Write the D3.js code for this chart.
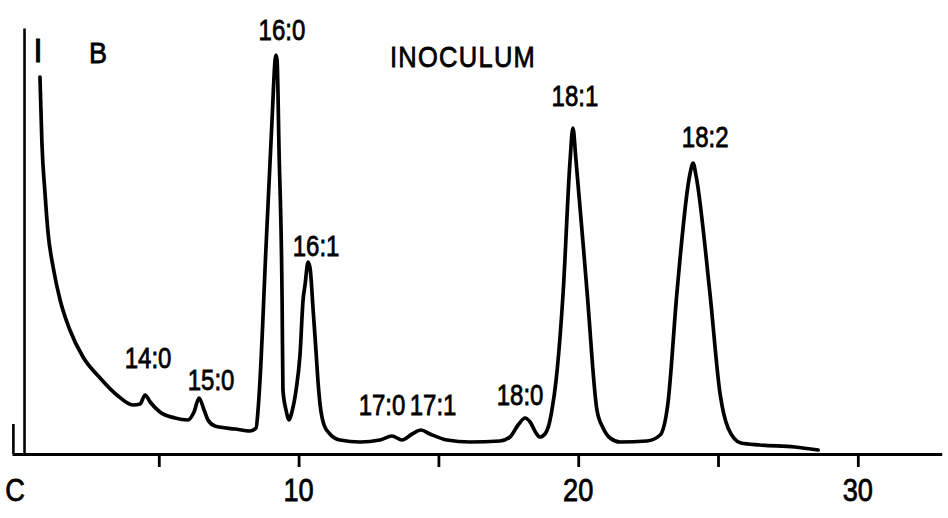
<!DOCTYPE html>
<html>
<head>
<meta charset="utf-8">
<script src="https://cdn.jsdelivr.net/npm/d3@7/dist/d3.min.js"></script>
<style>
  html, body { margin: 0; padding: 0; background: #fff; }
  svg { display: block; }
  text { font-family: "Liberation Sans", Arial, sans-serif; fill: #000; stroke: #000; stroke-width: 0.8px; }
</style>
</head>
<body>
<svg id="chart" width="948" height="518"></svg>
<script>
// Retention time (min) of the traced chromatogram points
const times = [0.75, 0.82, 0.93, 1.04, 1.22, 1.47, 1.82, 2.29, 2.90, 3.50, 4.08, 4.33, 4.51, 4.69, 5.04, 5.58,
  6.04, 6.26, 6.44, 6.62, 6.76, 7.01, 7.73, 8.26, 8.48, 8.55, 8.62, 8.83, 9.05, 9.16, 9.19, 9.23, 9.30, 9.41,
  9.44, 9.55, 9.66, 9.76, 9.91, 10.05, 10.16, 10.23, 10.34, 10.41, 10.52, 10.62, 10.69, 10.77, 10.91, 11.12,
  11.48, 12.20, 12.91, 13.34, 13.70, 14.06, 14.38, 14.70, 15.31, 16.13, 17.20, 17.56, 17.85, 18.10, 18.28,
  18.49, 18.63, 18.81, 18.96, 19.06, 19.21, 19.46, 19.71, 19.81, 19.92, 20.32, 20.67, 20.89, 21.14, 21.50,
  22.46, 22.93, 23.21, 23.53, 23.99, 24.11, 24.21, 24.71, 25.07, 25.36, 25.82, 26.50, 27.75, 28.58];
// Detector response (relative units)
const response = [94.25, 77.75, 65.25, 55.25, 46.75, 38.5, 31, 24.25, 19, 14.75, 12.25, 12.5, 14.75, 13, 10.5, 9,
  8.5, 10.5, 14, 11, 8.5, 7, 6.25, 5.75, 6.5, 11, 18.5, 51, 83.5, 98.5, 99.75, 98.5, 76, 38.5,
  16, 11, 8.5, 10.5, 16, 24.75, 38.5, 42.25, 48, 46.5, 36, 26, 18.5, 12.25, 7.25, 5,
  3.5, 3, 3.5, 4.5, 3.5, 5, 6, 5, 3.5, 3, 3.25, 4.25, 7.25, 9, 8,
  5.25, 4.25, 5, 7.5, 11, 18.5, 40.25, 73.5, 81.5, 73.5, 40.25, 11, 6.5, 4, 3,
  3.25, 4.75, 12.75, 40.25, 69.75, 72.75, 69.75, 40.25, 15.25, 6.5, 2.75, 2.25, 1.75, 1];

// Peak identities and apex (time, response)
const peakNames = ["14:0", "15:0", "16:0", "16:1", "17:0", "17:1", "18:0", "18:1", "18:2"];
const peakTimes = [4.51, 6.44, 9.19, 10.34, 13.34, 14.38, 18.10, 19.81, 24.11];
const peakHeights = [14.75, 14, 99.75, 48, 4.5, 6, 9, 81.5, 72.75];

// Axis ticks
const tickValues = [5, 10, 15, 20, 25, 30];
const tickLabels = { 0: "C", 10: "10", 20: "20", 30: "30" };
const labelTicks = [0, 10, 20, 30];

const title = "INOCULUM";
const panel = "B";
const solventMark = "I";

const svg = d3.select("#chart");

const x = d3.scaleLinear().domain([-0.25, 33]).range([12, 941.7]);
const y = d3.scaleLinear().domain([0, 106.5]).range([454, 28]);

// place text with a condensed horizontal scale
function put(sel, px, py, sx) {
  sel.attr("transform", `translate(${px},${py}) scale(${sx},1)`);
}

// x axis
const xAxis = d3.axisBottom(x).tickValues(tickValues).tickSize(13).tickSizeOuter(0).tickFormat("");
const gx = svg.append("g").attr("transform", `translate(0,${y(0)})`).call(xAxis);
gx.select(".domain").attr("stroke", "#000").attr("stroke-width", 2.8);
gx.selectAll(".tick line").attr("stroke", "#000").attr("stroke-width", 2.8);

svg.append("g").selectAll("text").data(labelTicks).join("text")
  .attr("text-anchor", "middle")
  .attr("font-size", 32)
  .each(function (d) { put(d3.select(this), x(d) + (d === 0 ? -4 : 0), y(0) + 47, 0.85); })
  .text(d => tickLabels[d]);

// y axis (no ticks)
const yAxis = d3.axisLeft(y).tickValues([]).tickSizeOuter(0);
const gy = svg.append("g").attr("transform", `translate(${x(0.18)},0)`).call(yAxis);
gy.select(".domain").attr("stroke", "#000").attr("stroke-width", 2.6);

// start mark at left
svg.append("line")
  .attr("x1", x(-0.2)).attr("x2", x(-0.2))
  .attr("y1", y(0)).attr("y2", y(7.5))
  .attr("stroke", "#000").attr("stroke-width", 2.6);

// chromatogram trace
const pts = times.map((t, i) => [t, response[i]]);
const line = d3.line().x(d => x(d[0])).y(d => y(d[1])).curve(d3.curveMonotoneX);
svg.append("path")
  .datum(pts)
  .attr("d", line)
  .attr("fill", "none")
  .attr("stroke", "#000")
  .attr("stroke-width", 3.7)
  .attr("stroke-linejoin", "round")
  .attr("stroke-linecap", "round");

// peak labels (pixel offsets from apex)
const labelOffsets = [[3, -27], [12, -8], [6, -15], [8, -6], [-10, -21], [12, -15], [-5, -13], [2, -22], [12, -16]];
svg.append("g").selectAll("text").data(peakNames).join("text")
  .attr("text-anchor", "middle")
  .attr("font-size", 30)
  .each(function (d, i) {
    put(d3.select(this), x(peakTimes[i]) + labelOffsets[i][0], y(peakHeights[i]) + labelOffsets[i][1], 0.8);
  })
  .text(d => d);

// title & panel letters
svg.append("text").attr("text-anchor", "middle").attr("font-size", 30).attr("letter-spacing", 1.5)
  .call(s => put(s, 463, 67, 0.85)).text(title);
svg.append("text").attr("text-anchor", "middle").attr("font-size", 30)
  .call(s => put(s, 98, 63, 0.9)).text(panel);
svg.append("text").attr("text-anchor", "middle").attr("font-size", 34)
  .call(s => put(s, 38, 62, 1)).text(solventMark);
</script>
</body>
</html>
